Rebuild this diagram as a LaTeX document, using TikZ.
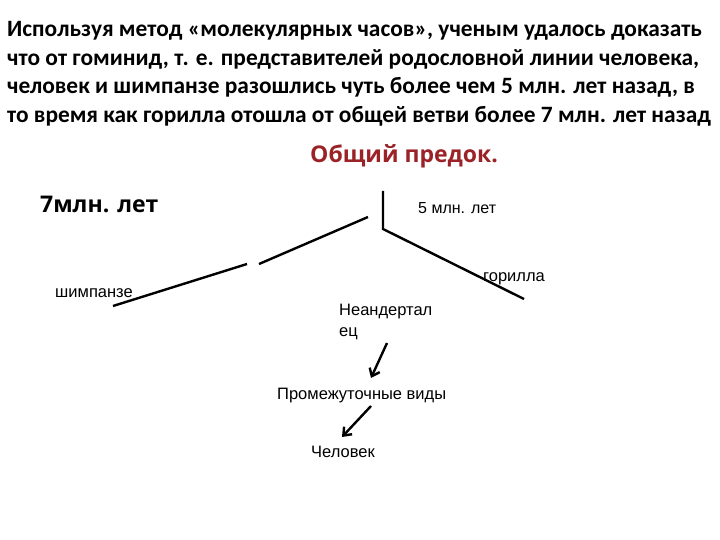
\documentclass[tikz,border=0pt]{standalone}
\usepackage{fontspec}
\setmainfont{Liberation Sans}
\newfontfamily\headfont{Carlito}
\newfontfamily\titlefont{Open Sans}
\usetikzlibrary{arrows.meta}
\definecolor{predokred}{RGB}{155,35,40}
\tikzset{
    headline/.style={anchor=base west,inner sep=0,font=\headfont\bfseries\fontsize{23.4}{28}\selectfont},
    taxon/.style={anchor=base west,inner sep=0,font=\fontsize{16.5}{20}\selectfont},
    branch/.style={line width=2.4pt},
    descent/.style={line width=2.4pt,-{Straight Barb[length=7pt,width=11pt]}}
}
\begin{document}
\begin{tikzpicture}[x=1pt,y=-1pt]
    \useasboundingbox[fill=white] (0,0) rectangle (720,540);
    % text above the tree
    \node[headline] (hd1) at (7,37) {Используя метод «молекулярных часов», ученым удалось доказать};
    \node[headline] (hd2) at (7,65.5) {что от гоминид, т. е. представителей родословной линии человека,};
    \node[headline] (hd3) at (7,94) {человек и шимпанзе разошлись чуть более чем 5 млн. лет назад, в};
    \node[headline] (hd4) at (7,122.5) {то время как горилла отошла от общей ветви более 7 млн. лет назад};
    \node[anchor=base west,inner sep=0,text=predokred,font=\titlefont\bfseries\fontsize{23}{27}\selectfont] (predok) at (310,163) {Общий предок.};
    \node[anchor=base west,inner sep=0,font=\titlefont\bfseries\fontsize{23}{27}\selectfont] (seven) at (40,213) {7млн. лет};
    \node[taxon,font=\fontsize{16}{19}\selectfont] (five) at (418,214) {5 млн. лет};
    % tree
    \coordinate (root) at (383,191);
    \coordinate (fork) at (383,229);
    \coordinate (gorend) at (524,299);
    \coordinate (chA) at (368,217);
    \coordinate (chB) at (259,264);
    \coordinate (chC) at (247,264);
    \coordinate (chD) at (113,306);
    \draw[branch] (root) -- (fork) -- (gorend);
    \draw[branch] (chA) -- (chB);
    \draw[branch] (chC) -- (chD);
    \node[taxon] (gorilla) at (483,281) {горилла};
    \node[taxon] (chimp) at (55,297) {шимпанзе};
    \node[taxon] (nean) at (339,315) {Неандертал};
    \node[taxon] (nean2) at (339,336) {ец};
    \node[taxon] (inter) at (277,399) {Промежуточные виды};
    \node[taxon] (human) at (311,457) {Человек};
    % descent arrows
    \coordinate (arA) at (387,343);
    \coordinate (arB) at (371,378);
    \coordinate (arC) at (371,406);
    \coordinate (arD) at (342,437);
    \draw[descent] (arA) -- (arB);
    \draw[descent] (arC) -- (arD);
\end{tikzpicture}
\end{document}
